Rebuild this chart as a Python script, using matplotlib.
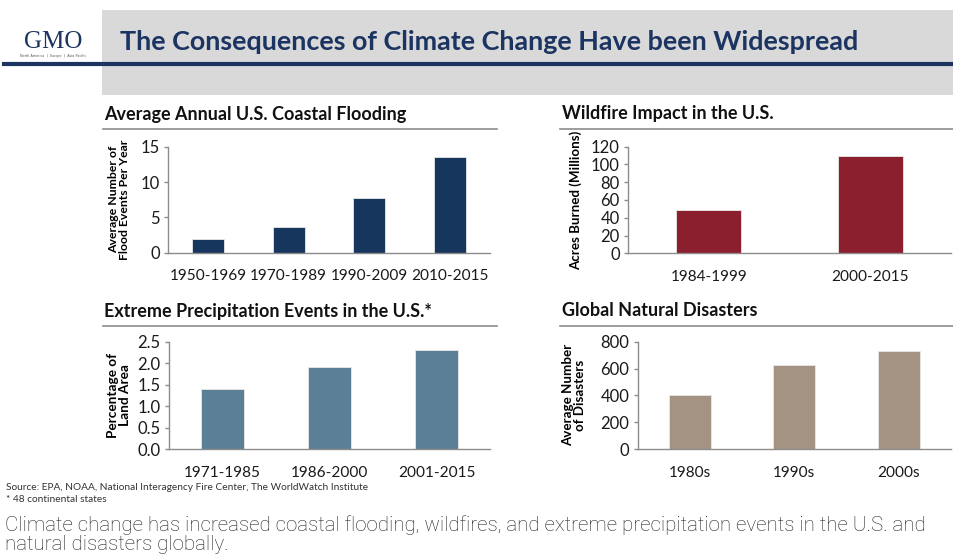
import matplotlib
matplotlib.use("Agg")
import matplotlib.pyplot as plt
from matplotlib.patches import Rectangle
from matplotlib.lines import Line2D

# ---------------------------------------------
# Data
# ---------------------------------------------
flood_periods = ["1950-1969", "1970-1989", "1990-2009", "2010-2015"]
flood_events = [2.0, 3.6, 7.7, 13.5]

fire_periods = ["1984-1999", "2000-2015"]
fire_acres = [49, 109]

precip_periods = ["1971-1985", "1986-2000", "2001-2015"]
precip_pct = [1.4, 1.9, 2.3]

disaster_decades = ["1980s", "1990s", "2000s"]
disaster_counts = [400, 630, 730]

W, H = 954, 556
FONT = "Lato"
NAVY = "#1c3461"


def fx(x):
    return x / W


def fy(y):
    return 1 - y / H


fig = plt.figure(figsize=(W / 100, H / 100), dpi=100)
fig.patch.set_facecolor("white")

# header band
fig.add_artist(Rectangle((fx(102), fy(95)), fx(954) - fx(102), fy(10) - fy(95),
                         transform=fig.transFigure, facecolor="#d9d9d9", edgecolor="none", zorder=0))
fig.add_artist(Line2D([fx(4), fx(954)], [fy(64), fy(64)], transform=fig.transFigure,
                      color=NAVY, lw=3, zorder=1))
fig.text(fx(53), fy(42), "GMO", family="Liberation Serif", fontsize=18, color=NAVY,
         ha="center", va="center")
fig.text(fx(53), fy(56), "North America  |  Europe  |  Asia Pacific", family="DejaVu Sans",
         fontsize=2.4, color="#555555", ha="center", va="center")
fig.text(fx(120), fy(42), "The Consequences of Climate Change Have been Widespread",
         family=FONT, fontweight="bold", fontsize=19.4, color=NAVY, ha="left", va="center")


def panel(box, title, title_xy, rule, cats, vals, color, ylim, yticks, yfmt, ylabel, ylab_x, ylab_fs):
    left, right, top, bottom = box
    ax = fig.add_axes([fx(left), fy(bottom), fx(right) - fx(left), fy(top) - fy(bottom)])
    x = list(range(len(cats)))
    ax.bar(x, vals, width=0.4, color=color, edgecolor="#e8e8e8", linewidth=0.6, zorder=2)
    ax.set_xlim(-0.5, len(cats) - 0.5)
    ax.set_ylim(*ylim)
    ax.set_yticks(yticks)
    ax.set_yticklabels([yfmt.format(v) for v in yticks])
    ax.set_xticks(x)
    ax.set_xticklabels(cats)
    for s in ["top", "right"]:
        ax.spines[s].set_visible(False)
    for s in ["left", "bottom"]:
        ax.spines[s].set_color("#8c8c8c")
        ax.spines[s].set_linewidth(1.0)
    ax.tick_params(axis="y", length=3, width=1.0, color="#8c8c8c", pad=3, labelsize=12)
    ax.tick_params(axis="x", length=0, pad=12, labelsize=11.1)
    for lab in ax.get_xticklabels() + ax.get_yticklabels():
        lab.set_family(FONT)
        lab.set_color("#1a1a1a")
    fig.text(fx(ylab_x), fy((top + bottom) / 2), ylabel, rotation=90, family=FONT,
             fontweight="bold", fontsize=ylab_fs, ha="center", va="center", linespacing=1.0)
    fig.text(fx(title_xy[0]), fy(title_xy[1]), title, family=FONT, fontweight="bold",
             fontsize=13, ha="left", va="center", color="#111111")
    fig.add_artist(Line2D([fx(rule[0]), fx(rule[1])], [fy(rule[2]), fy(rule[2])],
                          transform=fig.transFigure, color="#8c8c8c", lw=1.2))
    return ax


panel((168, 490, 146.7, 252.7), "Average Annual U.S. Coastal Flooding", (104, 114),
      (103, 497, 129), flood_periods, flood_events, "#17365d", (0, 15), [0, 5, 10, 15], "{:g}",
      "Average Number of\nFlood Events Per Year", 119, 8.8)

panel((628, 951, 146.7, 253.3), "Wildfire Impact in the U.S.", (562, 113),
      (560, 954, 129), fire_periods, fire_acres, "#8b1f2e", (0, 120),
      [0, 20, 40, 60, 80, 100, 120], "{:g}", "Acres Burned (Millions)", 576, 9.6)

panel((169, 490, 341.7, 449), "Extreme Precipitation Events in the U.S.*", (104, 311),
      (103, 497, 325.7), precip_periods, precip_pct, "#5b7f95", (0, 2.5),
      [0, 0.5, 1.0, 1.5, 2.0, 2.5], "{:.1f}", "Percentage of\nLand Area", 119, 9.8)

panel((637.7, 951, 341.7, 449), "Global Natural Disasters", (562, 310),
      (560, 954, 325.7), disaster_decades, disaster_counts, "#a49382", (0, 800),
      [0, 200, 400, 600, 800], "{:g}", "Average Number\nof Disasters", 574, 9.6)

# footer
fig.text(fx(6), fy(488), "Source: EPA, NOAA, National Interagency Fire Center, The WorldWatch Institute",
         family=FONT, fontsize=7.3, color="#333333", ha="left", va="center")
fig.text(fx(6), fy(500), "* 48 continental states", family=FONT, fontsize=7.3, color="#333333",
         ha="left", va="center")
fig.text(fx(5), fy(535),
         "Climate change has increased coastal flooding, wildfires, and extreme precipitation events in the U.S. and\nnatural disasters globally.",
         family="Roboto", fontweight="light", fontsize=14.8, color="#222222", ha="left", va="center",
         linespacing=1.0)

fig.savefig("out.png", dpi=100)
